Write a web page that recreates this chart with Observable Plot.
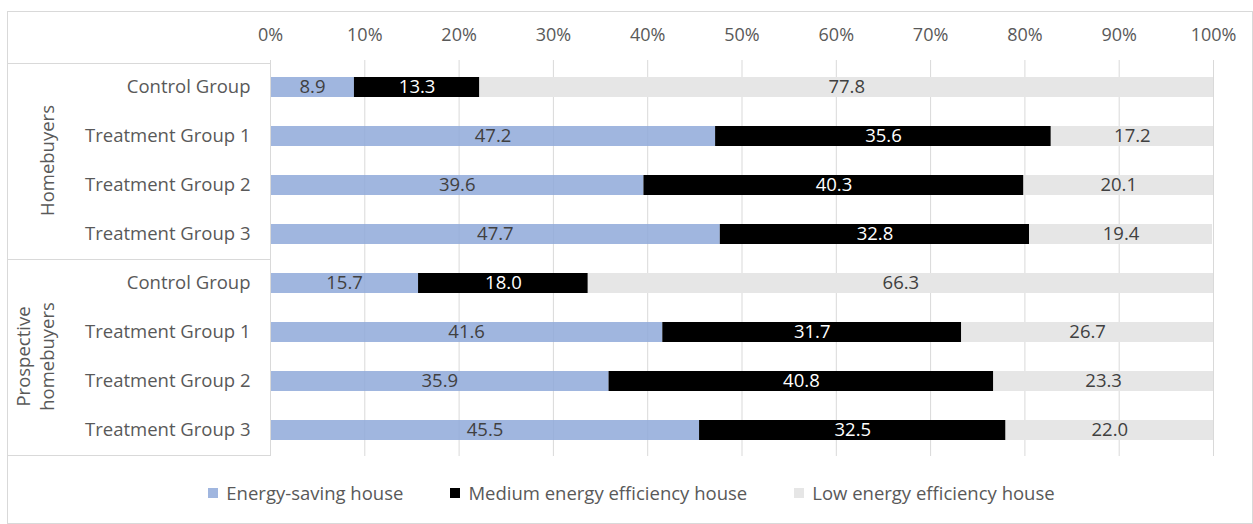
<!DOCTYPE html>
<html>
<head>
<meta charset="utf-8">
<script src="https://cdn.jsdelivr.net/npm/d3@7"></script>
<script src="https://cdn.jsdelivr.net/npm/@observablehq/plot@0.6"></script>
<style>
  html, body { margin: 0; padding: 0; background: #fff; }
  #wrap { position: relative; width: 1253px; height: 524px; font-family: "Open Sans", sans-serif; }
  #frame { position: absolute; left: 7px; top: 11px; width: 1246px; height: 513px; border: 1px solid #d9d9d9; box-sizing: border-box; pointer-events: none; }
  #chart { position: absolute; left: 0; top: 0; }
  #legend { position: absolute; left: 0; top: 482px; width: 1253px; height: 21px; display: flex; justify-content: center; align-items: center; font-size: 18.5px; line-height: 21px; color: #595959; padding-left: 10px; box-sizing: border-box; }
  .item { display: flex; align-items: center; margin: 0 23.5px; }
  .sw { width: 10px; height: 10px; margin-right: 8px; }
</style>
</head>
<body>
<div id="wrap">
  <div id="chart"></div>
  <div id="legend"></div>
  <div id="frame"></div>
</div>
<script>
const groups = ["Homebuyers", "Prospective homebuyers"];
const rows = ["Control Group", "Treatment Group 1", "Treatment Group 2", "Treatment Group 3"];
const categories = ["Energy-saving house", "Medium energy efficiency house", "Low energy efficiency house"];
const colors = ["#a0b6df", "#000000", "#e6e6e6"];
const barColors = ["#8fa9d9", "#000000", "#e6e6e6"];
const barOpacity = [0.85, 1, 1];
const energySaving = [8.9, 47.2, 39.6, 47.7, 15.7, 41.6, 35.9, 45.5];
const mediumEfficiency = [13.3, 35.6, 40.3, 32.8, 18.0, 31.7, 40.8, 32.5];
const lowEfficiency = [77.8, 17.2, 20.1, 19.4, 66.3, 26.7, 23.3, 22.0];
const tickValues = [0, 10, 20, 30, 40, 50, 60, 70, 80, 90, 100];

const series = [energySaving, mediumEfficiency, lowEfficiency];
const keys = [];
groups.forEach((g, gi) => rows.forEach(r => keys.push(gi + "|" + r)));
const data = [];
keys.forEach((k, i) => {
  categories.forEach((c, ci) => {
    data.push({key: k, category: c, ci, value: series[ci][i],
      textColor: ci === 1 ? "#ffffff" : "#404040"});
  });
});

const W = 1253, H = 462, ML = 270, MR = 40, MT = 60, MB = 6;
const FONT = 18.5;

const plot = Plot.plot({
  width: W, height: H,
  marginLeft: ML, marginRight: MR, marginTop: MT, marginBottom: MB,
  style: {fontFamily: "'Open Sans', sans-serif", fontSize: FONT + "px", background: "transparent"},
  x: {domain: [0, 100], label: null},
  y: {domain: keys, label: null, paddingInner: 0.596, paddingOuter: 0.298},
  color: {domain: categories, range: barColors},
  marks: [
    Plot.gridX(tickValues, {stroke: "#d9d9d9", strokeOpacity: 1, strokeWidth: 1}),
    Plot.barX(data, Plot.stackX({x: "value", y: "key", fill: "category", fillOpacity: d => barOpacity[d.ci], inset: 0})),
    Plot.text(data, Plot.stackX({x: "value", y: "key", text: d => d.value.toFixed(1), fill: "textColor", fontSize: FONT})),
    Plot.axisX({anchor: "top", ticks: tickValues, tickFormat: d => d + "%", tickSize: 0, tickPadding: 20, fontSize: 18, color: "#595959", label: null}),
    Plot.axisY({tickSize: 0, tickPadding: 20, tickFormat: d => d.split("|")[1], fontSize: FONT, color: "#595959", label: null})
  ]
});
document.getElementById("chart").appendChild(plot);

// Left label box: group separators and rotated group labels derived from the y scale
const y = plot.scale("y");
const step = y.step, bw = y.bandwidth;
const svg = d3.select(plot);
const g = svg.append("g").attr("stroke", "#d9d9d9").attr("stroke-width", 1);
const boxLeft = 7;
const bounds = groups.map((grp, gi) => {
  const a = y.apply(keys[gi * rows.length]) - (step - bw) / 2;
  const b = y.apply(keys[gi * rows.length + rows.length - 1]) + bw + (step - bw) / 2;
  return [a, b];
});
const top0 = bounds[0][0], bottom0 = bounds[bounds.length - 1][1];
const lineYs = [top0, ...bounds.map(b => b[1])];
lineYs.forEach(v => g.append("line").attr("x1", boxLeft).attr("x2", ML).attr("y1", Math.round(v) + 0.5).attr("y2", Math.round(v) + 0.5));
g.append("line").attr("x1", ML + 0.5).attr("x2", ML + 0.5).attr("y1", top0).attr("y2", bottom0);

const labelLines = [["Homebuyers"], ["Prospective", "homebuyers"]];
bounds.forEach(([a, b], gi) => {
  const cy = (a + b) / 2;
  const lines = labelLines[gi];
  const lh = 24;
  const cx = 48 - (lines.length - 1) * lh;
  const t = svg.append("text")
    .attr("transform", `translate(${cx},${cy}) rotate(-90)`)
    .attr("text-anchor", "middle")
    .attr("fill", "#595959")
    .attr("font-size", FONT)
    .attr("font-family", "'Open Sans', sans-serif");
  lines.forEach((ln, li) => {
    t.append("tspan").attr("x", 0).attr("dy", li === 0 ? "0.35em" : lh).text(ln);
  });
});

// Legend
const legend = d3.select("#legend");
categories.forEach((c, i) => {
  const it = legend.append("div").attr("class", "item");
  it.append("div").attr("class", "sw").style("background", colors[i]);
  it.append("span").text(c);
});
</script>
</body>
</html>
